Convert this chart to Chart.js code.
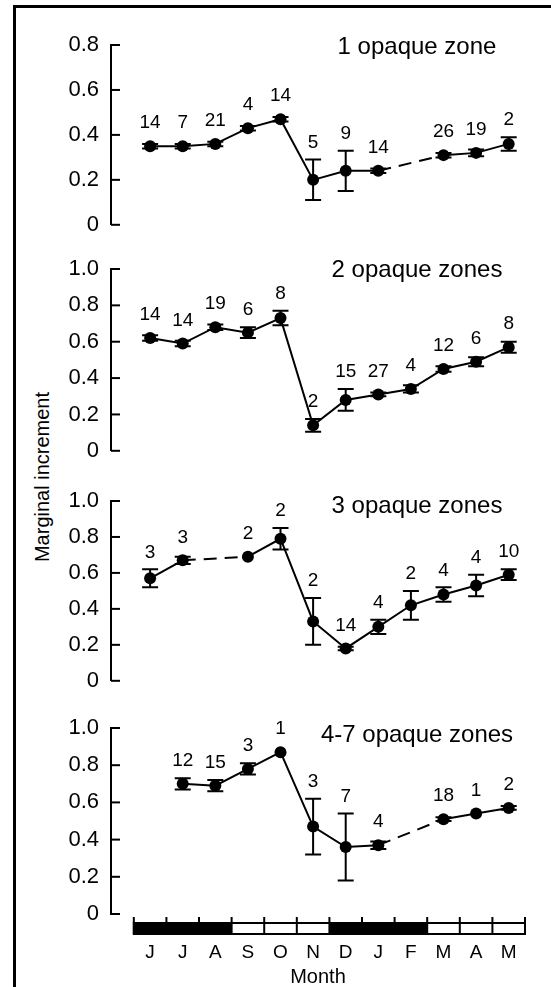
<!DOCTYPE html>
<html>
<head>
<meta charset="utf-8">
<script src="https://cdn.jsdelivr.net/npm/chart.js@4.4.1/dist/chart.umd.min.js"></script>
<style>
  body { margin: 0; background: #fff; width: 551px; height: 987px; overflow: hidden; position: relative;
         font-family: "Liberation Sans", Arial, sans-serif; }
  #frame { position: absolute; left: 13px; top: 5px; width: 560px; height: 1000px;
           border-top: 3px solid #000; border-left: 3px solid #000; }
  canvas { position: absolute; left: 0; }
  #ylab { position: absolute; left: 42px; top: 477px; transform: translate(-50%, -50%) rotate(-90deg);
          font-size: 20px; white-space: nowrap; color: #000; }
</style>
</head>
<body>
<div id="frame"></div>
<div id="ylab">Marginal increment</div>
<canvas id="p1" width="551" height="250" style="top:0px"></canvas>
<canvas id="p2" width="551" height="236" style="top:240px"></canvas>
<canvas id="p3" width="551" height="236" style="top:470px"></canvas>
<canvas id="p4" width="551" height="297" style="top:690px"></canvas>
<script>
const months = ["J", "J", "A", "S", "O", "N", "D", "J", "F", "M", "A", "M"];
const darkMonths = [1, 1, 1, 0, 0, 0, 1, 1, 1, 0, 0, 0];

const ticks08 = [0, 0.2, 0.4, 0.6, 0.8];
const tickLabels08 = ["0", "0.2", "0.4", "0.6", "0.8"];
const ticks10 = [0, 0.2, 0.4, 0.6, 0.8, 1.0];
const tickLabels10 = ["0", "0.2", "0.4", "0.6", "0.8", "1.0"];

// 1 opaque zone
const mean1 = [0.35, 0.35, 0.36, 0.43, 0.47, 0.20, 0.24, 0.24, null, 0.31, 0.32, 0.36];
const err1 = [0.01, 0.01, 0.01, 0.01, 0.01, 0.09, 0.09, 0.01, null, 0.01, 0.015, 0.03];
const n1 = [14, 7, 21, 4, 14, 5, 9, 14, null, 26, 19, 2];

// 2 opaque zones
const mean2 = [0.62, 0.59, 0.68, 0.65, 0.73, 0.14, 0.28, 0.31, 0.34, 0.45, 0.49, 0.57];
const err2 = [0.015, 0.015, 0.015, 0.03, 0.04, 0.035, 0.06, 0.01, 0.02, 0.015, 0.025, 0.03];
const n2 = [14, 14, 19, 6, 8, 2, 15, 27, 4, 12, 6, 8];

// 3 opaque zones
const mean3 = [0.57, 0.67, null, 0.69, 0.79, 0.33, 0.18, 0.30, 0.42, 0.48, 0.53, 0.59];
const err3 = [0.05, 0.02, null, 0, 0.06, 0.13, 0.01, 0.04, 0.08, 0.04, 0.06, 0.03];
const n3 = [3, 3, null, 2, 2, 2, 14, 4, 2, 4, 4, 10];

// 4-7 opaque zones
const mean4 = [null, 0.70, 0.69, 0.78, 0.87, 0.47, 0.36, 0.37, null, 0.51, 0.54, 0.57];
const err4 = [null, 0.03, 0.03, 0.03, 0, 0.15, 0.18, 0.02, null, 0.01, 0, 0.01];
const n4 = [null, 12, 15, 3, 1, 3, 7, 4, null, 18, 1, 2];

Chart.defaults.font.family = '"Liberation Sans", Arial, sans-serif';
Chart.defaults.color = "#000";

// error bars under the markers
const errorBars = {
  id: "errorBars",
  beforeDatasetsDraw(chart) {
    const { ctx, scales: { x, y } } = chart;
    const ds = chart.data.datasets[0];
    ctx.save();
    ctx.strokeStyle = "#000";
    ctx.lineWidth = 2;
    ds.data.forEach((p, i) => {
      const e = ds.err[i];
      if (!e) return;
      const px = x.getPixelForValue(p.x);
      const top = y.getPixelForValue(p.y + e);
      const bot = y.getPixelForValue(p.y - e);
      ctx.beginPath();
      ctx.moveTo(px, top); ctx.lineTo(px, bot);
      ctx.moveTo(px - 8, top); ctx.lineTo(px + 8, top);
      ctx.moveTo(px - 8, bot); ctx.lineTo(px + 8, bot);
      ctx.stroke();
    });
    ctx.restore();
  },
};

// sample sizes above each point, inward ticks, panel title
const decorations = {
  id: "decorations",
  afterDraw(chart, args, opts) {
    const { ctx, chartArea, scales: { x, y } } = chart;
    const ds = chart.data.datasets[0];
    ctx.save();
    ctx.fillStyle = "#000";
    ctx.textAlign = "center";
    ctx.textBaseline = "middle";
    ctx.font = '19px "Liberation Sans", Arial, sans-serif';
    ds.data.forEach((p, i) => {
      const px = x.getPixelForValue(p.x);
      const py = y.getPixelForValue(p.y);
      const top = Math.min(y.getPixelForValue(p.y + (ds.err[i] || 0)), py - 6);
      ctx.fillText(String(ds.n[i]), px, top - 17);
    });

    ctx.strokeStyle = "#000";
    ctx.lineWidth = 2;
    y.ticks.forEach((t) => {
      const ty = y.getPixelForValue(t.value);
      ctx.beginPath();
      ctx.moveTo(chartArea.left, ty);
      ctx.lineTo(chartArea.left + 9, ty);
      ctx.stroke();
    });

    ctx.font = '24px "Liberation Sans", Arial, sans-serif';
    ctx.fillText(opts.title, 417, chartArea.top + opts.titleDy);
    ctx.restore();
  },
};

// black / white month strip under the last panel
const monthStrip = {
  id: "monthStrip",
  afterDraw(chart) {
    const { ctx, scales: { x } } = chart;
    const top = x.top + 9, h = 11;
    ctx.save();
    ctx.strokeStyle = "#000";
    ctx.lineWidth = 2;
    months.forEach((m, i) => {
      const x0 = x.getPixelForValue(i - 0.5);
      const x1 = x.getPixelForValue(i + 0.5);
      if (darkMonths[i]) {
        ctx.fillStyle = "#000";
        ctx.fillRect(x0, top, x1 - x0, h);
      }
    });
    const left = x.getPixelForValue(-0.5), right = x.getPixelForValue(11.5);
    ctx.strokeRect(left, top, right - left, h);
    for (let i = 0; i <= months.length; i++) {
      const bx = x.getPixelForValue(i - 0.5);
      ctx.beginPath();
      ctx.moveTo(bx, top - 6);
      ctx.lineTo(bx, top + h);
      ctx.stroke();
    }
    ctx.restore();
  },
};

const makePanel = (id, mean, err, n, tickVals, tickLabels, title, titleDy, padTop, padBottom, showMonths) => {
  const idx = months.map((_, i) => i).filter((i) => mean[i] !== null);
  const xScale = {
    type: "linear",
    min: -1.2,
    max: 11.5,
    display: showMonths,
  };
  if (showMonths) {
    Object.assign(xScale, {
      grid: { display: false, drawTicks: false },
      border: { display: false },
      afterBuildTicks: (s) => { s.ticks = months.map((_, i) => ({ value: i })); },
      afterFit: (s) => { s.height = 73; },
      ticks: {
        font: { size: 19 },
        padding: 27,
        autoSkip: false,
        maxRotation: 0,
        callback: (v, i) => months[i],
      },
      title: { display: true, text: "Month", font: { size: 20, lineHeight: 1 }, padding: 0 },
    });
  }
  return new Chart(document.getElementById(id), {
    type: "line",
    data: {
      datasets: [
        {
          data: idx.map((i) => ({ x: i, y: mean[i] })),
          err: idx.map((i) => err[i]),
          n: idx.map((i) => n[i]),
          borderColor: "#000",
          borderWidth: 2,
          pointRadius: 6,
          pointBackgroundColor: "#000",
          pointBorderColor: "#000",
          pointBorderWidth: 0,
          tension: 0,
          clip: false,
          segment: {
            borderDash: (ctx) => (ctx.p1.parsed.x - ctx.p0.parsed.x > 1 ? [13, 8] : undefined),
          },
        },
      ],
    },
    options: {
      responsive: false,
      animation: false,
      events: [],
      layout: { padding: { left: 0, right: 26, top: padTop, bottom: padBottom } },
      plugins: {
        legend: { display: false },
        tooltip: { enabled: false },
        decorations: { title: title, titleDy: titleDy },
      },
      scales: {
        x: xScale,
        y: {
          min: 0,
          max: tickVals[tickVals.length - 1],
          grid: { display: false, drawTicks: false },
          border: { display: true, color: "#000", width: 2 },
          afterBuildTicks: (s) => { s.ticks = tickVals.map((v) => ({ value: v })); },
          afterFit: (s) => { s.width = 111; },
          ticks: {
            font: { size: 22 },
            padding: 12,
            callback: (v, i) => tickLabels[i],
          },
        },
      },
    },
    plugins: showMonths ? [errorBars, decorations, monthStrip] : [errorBars, decorations],
  });
};

makePanel("p1", mean1, err1, n1, ticks08, tickLabels08, "1 opaque zone", 2, 45, 20, false);
makePanel("p2", mean2, err2, n2, ticks10, tickLabels10, "2 opaque zones", 1, 29, 20, false);
makePanel("p3", mean3, err3, n3, ticks10, tickLabels10, "3 opaque zones", 5, 31, 20, false);
makePanel("p4", mean4, err4, n4, ticks10, tickLabels10, "4-7 opaque zones", 7, 38, 0, true);
</script>
</body>
</html>
